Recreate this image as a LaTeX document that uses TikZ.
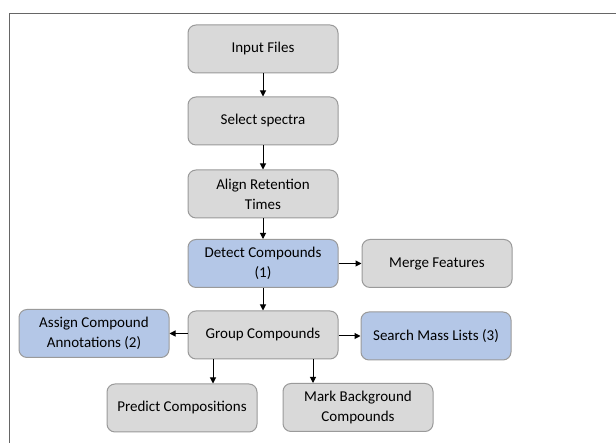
\documentclass[tikz,border=0pt]{standalone}
\usepackage{fontspec}
\setmainfont{Carlito}
\usetikzlibrary{arrows.meta}
\definecolor{boxgray}{HTML}{D9D9D9}
\definecolor{boxblue}{HTML}{B4C7E7}
\definecolor{boxline}{HTML}{9A9A9A}
\definecolor{framegray}{HTML}{666666}
\tikzset{
  x=1pt, y=1pt,
  stepbox/.style={draw=boxline, line width=1pt, fill=boxgray, rounded corners=8pt,
    minimum width=150pt, minimum height=48pt, align=center, font=\fontsize{15}{20}\selectfont,
    inner sep=2pt},
  bluebox/.style={stepbox, fill=boxblue},
  flow/.style={-{Triangle[length=6pt,width=6pt]}, line width=1pt, black}
}
\begin{document}
\begin{tikzpicture}
\useasboundingbox (0,0) rectangle (616,443);
% outer frame, open to the right and bottom
\draw[framegray, line width=1.5pt] (9.5,0) -- (9.5,429.5) -- (616,429.5);

\node[stepbox] (input)  at (263,394) {Input Files};
\node[stepbox] (select) at (263,322) {Select spectra};
\node[stepbox] (align)  at (263,249) {Align Retention\\Times};
\node[bluebox] (detect) at (263,179.5) {Detect Compounds\\(1)};
\node[stepbox] (merge)  at (437,179.5) {Merge Features};
\node[stepbox] (group)  at (263,108) {Group Compounds};
\node[bluebox] (assign) at (94,109.5) {Assign Compound\\Annotations (2)};
\node[bluebox] (search) at (436,107) {Search Mass Lists (3)};
\node[stepbox] (predict) at (182,35) {Predict Compositions};
\node[stepbox] (mark)   at (358,35.5) {Mark Background\\Compounds};

\draw[flow] (input) -- (select);
\draw[flow] (select) -- (align);
\draw[flow] (align) -- (detect);
\draw[flow] (detect) -- (merge);
\draw[flow] (detect) -- (group);
\draw[flow] (group.west |- assign.east) -- (assign.east);
\draw[flow] (group.east |- search.west) -- (search.west);
\draw[flow] ([xshift=-50pt]group.south) -- ([xshift=-50pt]group.south |- predict.north);
\draw[flow] ([xshift=50pt]group.south) -- ([xshift=50pt]group.south |- mark.north);
\end{tikzpicture}
\end{document}
